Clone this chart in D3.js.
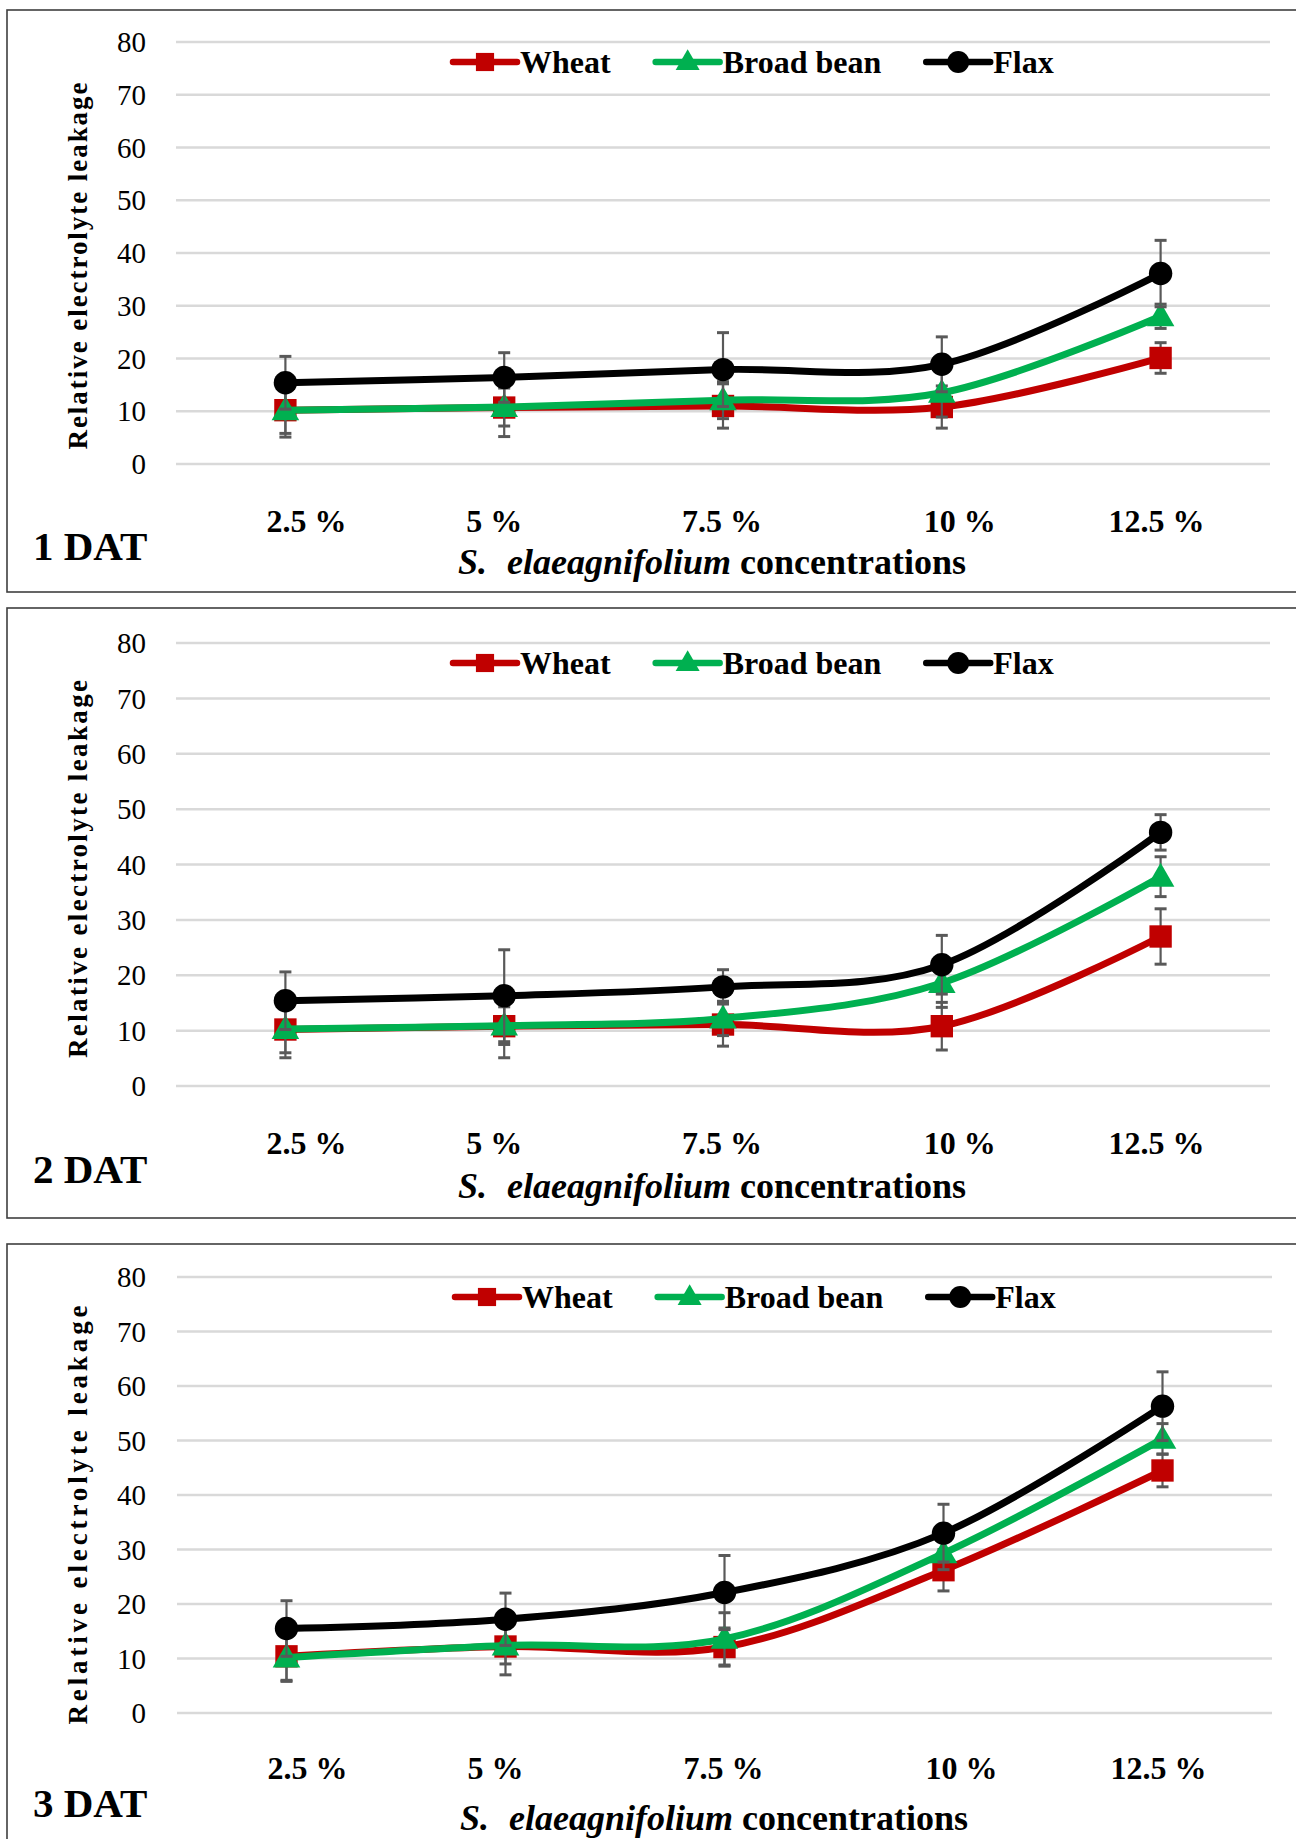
<!DOCTYPE html>
<meta charset='utf-8'>
<style>
body { margin: 0; background: #fff; }
svg { display: block; }
text { font-family: 'Liberation Serif', 'Times New Roman', serif; fill: #000; }
.grid line { stroke: #d9d9d9; stroke-width: 2.5px; }
.ytick { font-size: 29px; }
.xtick { font-size: 32px; font-weight: bold; }
.legend text { font-size: 32px; font-weight: bold; }
.dat { font-size: 41px; font-weight: bold; }
.xtitle { font-size: 36px; font-weight: bold; }
.ytitle { font-size: 27px; font-weight: bold; }
.err { stroke: #595959; stroke-width: 2.2px; }
.cap { stroke: #595959; stroke-width: 3px; }
</style>
<div id='chart'></div>
<script src="https://cdn.jsdelivr.net/npm/d3@7"></script>
<script>

// ---- data ----
const concentrations = ['2.5 %', '5 %', '7.5 %', '10 %', '12.5 %'];
const seriesNames = ['Wheat', 'Broad bean', 'Flax'];
const panelNames = ['1 DAT', '2 DAT', '3 DAT'];
const yTicks = [0, 10, 20, 30, 40, 50, 60, 70, 80];

// 1 DAT
const wheat1 = [10.2, 10.7, 11.0, 10.8, 20.1];
const wheat1Sd = [4.4, 5.5, 4.2, 4.0, 2.9];
const bean1 = [10.2, 10.8, 12.1, 13.5, 28.0];
const bean1Sd = [5.1, 3.6, 3.5, 4.6, 2.3];
const flax1 = [15.4, 16.4, 17.9, 18.9, 36.1];
const flax1Sd = [5.0, 4.7, 7.0, 5.2, 6.3];

// 2 DAT
const wheat2 = [10.2, 10.8, 11.1, 10.8, 27.0];
const wheat2Sd = [5.1, 5.7, 3.9, 4.3, 5.0];
const bean2 = [10.3, 10.9, 12.2, 18.6, 37.8];
const bean2Sd = [4.3, 3.4, 3.1, 4.4, 3.6];
const flax2 = [15.4, 16.3, 17.9, 21.9, 45.8];
const flax2Sd = [5.2, 8.3, 3.1, 5.3, 3.2];

// 3 DAT
const wheat3 = [10.4, 12.2, 12.1, 26.2, 44.5];
const wheat3Sd = [4.6, 5.2, 3.5, 3.8, 3.0];
const bean3 = [10.2, 12.4, 13.6, 29.3, 50.3];
const bean3Sd = [4.2, 3.4, 4.8, 3.0, 2.8];
const flax3 = [15.5, 17.2, 22.1, 33.0, 56.3];
const flax3Sd = [5.1, 4.8, 6.8, 5.3, 6.3];

const panelData = [
  [[wheat1, wheat1Sd], [bean1, bean1Sd], [flax1, flax1Sd]],
  [[wheat2, wheat2Sd], [bean2, bean2Sd], [flax2, flax2Sd]],
  [[wheat3, wheat3Sd], [bean3, bean3Sd], [flax3, flax3Sd]]
];

// ---- layout ----
const width = 1296, height = 1839;
const colors = ['#c00000', '#00b050', '#000000'];
const symbols = [d3.symbolSquare, d3.symbolTriangle, d3.symbolCircle];
const symbolSize = [500, 330, 430];
const legendSize = [330, 250, 380];
const tickNudge = [21, -10, -1, 18, -4];

const panels = [
  { top: 10, bottom: 592, y80: 42, y0: 464, gx: [176, 1270], tickY: 532, datY: 560, titleY: 574, titleX: 458, yTitleC: 266, yTitleL: 367, legX: 453 },
  { top: 608, bottom: 1218, y80: 643, y0: 1086, gx: [176, 1270], tickY: 1154, datY: 1183, titleY: 1198, titleX: 458, yTitleC: 869, yTitleL: 378, legX: 453 },
  { top: 1244, bottom: 1900, y80: 1277, y0: 1713, gx: [177, 1272], tickY: 1779, datY: 1817, titleY: 1830, titleX: 460, yTitleC: 1515, yTitleL: 419, legX: 455 }
];

const svg = d3.select('#chart').append('svg')
  .attr('width', width)
  .attr('height', height);

svg.append('rect').attr('width', width).attr('height', height).attr('fill', '#fff');

panels.forEach((p, pi) => drawPanel(p, pi));

function drawPanel(p, pi) {
  const g = svg.append('g');

  g.append('rect')
    .attr('x', 7).attr('y', p.top)
    .attr('width', 1320).attr('height', p.bottom - p.top)
    .attr('fill', 'none')
    .attr('stroke', '#3f3f3f')
    .attr('stroke-width', 1.6);

  const x = d3.scalePoint().domain(concentrations).range(p.gx).padding(0.5);
  const y = d3.scaleLinear().domain([0, 80]).range([p.y0, p.y80]);

  // gridlines
  g.append('g').attr('class', 'grid')
    .selectAll('line').data(yTicks).join('line')
    .attr('x1', p.gx[0]).attr('x2', p.gx[1])
    .attr('y1', d => y(d)).attr('y2', d => y(d));

  // y tick labels
  g.append('g').selectAll('text').data(yTicks).join('text')
    .attr('class', 'ytick')
    .attr('x', 146)
    .attr('y', d => y(d))
    .attr('dy', '0.35em')
    .attr('text-anchor', 'end')
    .text(d => d);

  // x tick labels
  g.append('g').selectAll('text').data(concentrations).join('text')
    .attr('class', 'xtick')
    .attr('x', (d, i) => x(d) + tickNudge[i])
    .attr('y', p.tickY)
    .attr('text-anchor', 'middle')
    .text(d => d);

  // y title
  g.append('text')
    .attr('class', 'ytitle')
    .attr('transform', `translate(78,${p.yTitleC}) rotate(-90)`)
    .attr('text-anchor', 'middle')
    .attr('dy', '0.35em')
    .attr('textLength', p.yTitleL)
    .attr('lengthAdjust', 'spacing')
    .text('Relative electrolyte leakage');

  // panel label
  g.append('text')
    .attr('class', 'dat')
    .attr('x', 33).attr('y', p.datY)
    .text(panelNames[pi]);

  // x title
  const xt = g.append('text')
    .attr('class', 'xtitle')
    .attr('x', p.titleX).attr('y', p.titleY);
  xt.append('tspan').style('font-style', 'italic').text('S.');
  xt.append('tspan').attr('dx', 20).style('font-style', 'italic').text('elaeagnifolium');
  xt.append('tspan').attr('dx', 9).text('concentrations');

  const line = d3.line()
    .x((d, i) => x(concentrations[i]))
    .y(d => y(d))
    .curve(d3.curveCatmullRom.alpha(0));

  panelData[pi].forEach(([vals, sds], si) => {
    const s = g.append('g');
    const pts = vals.map((v, i) => ({ v, sd: sds[i], c: concentrations[i] }));

    // error bars
    const eb = s.append('g').selectAll('g').data(pts).join('g');
    eb.append('line').attr('class', 'err')
      .attr('x1', d => x(d.c)).attr('x2', d => x(d.c))
      .attr('y1', d => y(d.v - d.sd)).attr('y2', d => y(d.v + d.sd));
    [-1, 1].forEach(sign => {
      eb.append('line').attr('class', 'cap')
        .attr('x1', d => x(d.c) - 6).attr('x2', d => x(d.c) + 6)
        .attr('y1', d => y(d.v + sign * d.sd)).attr('y2', d => y(d.v + sign * d.sd));
    });

    s.append('path')
      .attr('d', line(vals))
      .attr('fill', 'none')
      .attr('stroke', colors[si])
      .attr('stroke-width', 7)
      .attr('stroke-linejoin', 'round');

    s.append('g').selectAll('path').data(pts).join('path')
      .attr('transform', d => `translate(${x(d.c)},${y(d.v) + (si === 1 ? 2 : 0)})`)
      .attr('d', d3.symbol().type(symbols[si]).size(symbolSize[si]))
      .attr('fill', colors[si]);
  });

  // legend
  const leg = g.append('g').attr('class', 'legend')
    .attr('transform', `translate(${p.legX},${p.y80 + 20})`);
  let lx = 0;
  seriesNames.forEach((name, si) => {
    const item = leg.append('g').attr('transform', `translate(${lx},0)`);
    item.append('line')
      .attr('x1', 0).attr('x2', 64)
      .attr('stroke', colors[si]).attr('stroke-width', 6.5)
      .attr('stroke-linecap', 'round');
    item.append('path')
      .attr('transform', `translate(32,${si === 1 ? 1 : 0})`)
      .attr('d', d3.symbol().type(symbols[si]).size(legendSize[si]))
      .attr('fill', colors[si]);
    const t = item.append('text')
      .attr('x', 67).attr('dy', '0.35em')
      .text(name);
    lx += 67 + t.node().getComputedTextLength() + 45;
  });
}

</script>
